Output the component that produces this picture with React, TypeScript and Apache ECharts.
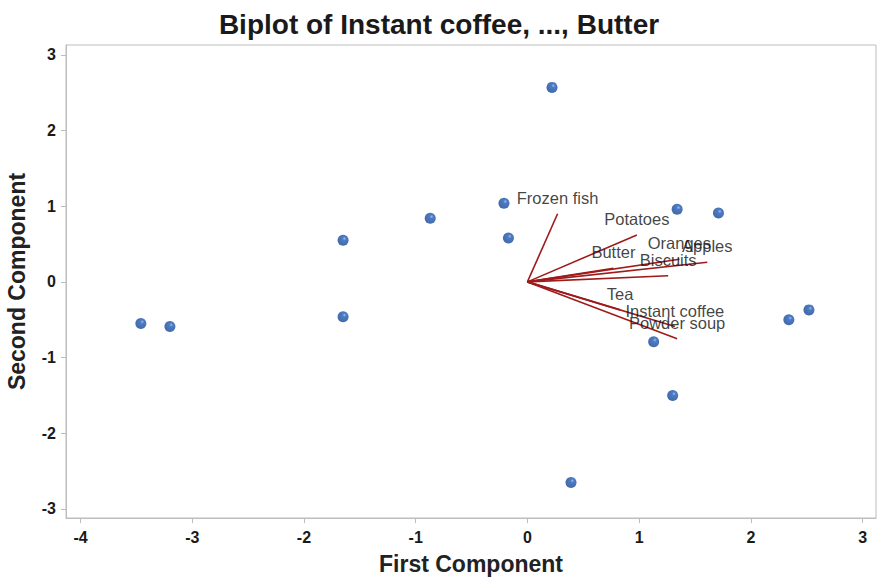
import React, { useEffect, useRef } from "react";
import * as echarts from "echarts";

const scoreX = [-3.46, -3.2, -1.65, -1.65, -0.87, -0.21, -0.17, 0.22, 0.39, 1.13, 1.3, 1.34, 1.71, 2.34, 2.52];
const scoreY = [-0.55, -0.59, 0.55, -0.46, 0.84, 1.04, 0.58, 2.57, -2.65, -0.79, -1.5, 0.96, 0.91, -0.5, -0.37];

const variables = ["Frozen fish", "Potatoes", "Oranges", "Apples", "Biscuits", "Butter", "Tea", "Instant coffee", "Powder soup"];
const loadX = [0.27, 0.98, 1.36, 1.61, 1.26, 0.77, 0.83, 1.32, 1.34];
const loadY = [0.9, 0.62, 0.3, 0.26, 0.08, 0.18, -0.37, -0.59, -0.75];

const xTicks = [-4, -3, -2, -1, 0, 1, 2, 3];
const yTicks = [-3, -2, -1, 0, 1, 2, 3];

const SANS = "'Liberation Sans', Arial, sans-serif";

export default function App() {
  const ref = useRef<HTMLDivElement>(null);
  useEffect(() => {
    if (!ref.current) return;
    const chart = echarts.init(ref.current, undefined, { renderer: "svg" });
    const axisCommon = {
      type: "value" as const,
      axisLine: { show: true, onZero: false, lineStyle: { color: "#bdbdbd", width: 1 } },
      splitLine: { show: false },
      nameLocation: "middle" as const,
      nameTextStyle: { fontFamily: SANS, fontWeight: "bold" as const, fontSize: 23, color: "#222" },
    };
    const tickLabel = {
      fontFamily: SANS,
      fontWeight: "bold" as const,
      fontSize: 16,
      color: "#1a1a1a",
    };
    chart.setOption({
      animation: false,
      backgroundColor: "#fff",
      title: {
        text: "Biplot of Instant coffee, ..., Butter",
        left: "center",
        top: 5,
        textStyle: { fontFamily: SANS, fontWeight: "bold", fontSize: 28, color: "#1a1a1a" },
      },
      grid: {
        left: 66,
        right: 2,
        top: 45,
        bottom: 60,
        containLabel: false,
        outerBoundsMode: "none",
        show: true,
        borderColor: "#bdbdbd",
        borderWidth: 1,
      },
      xAxis: {
        ...axisCommon,
        min: -4.13,
        max: 3.12,
        name: "First Component",
        nameGap: 34,
        axisTick: { show: true, customValues: xTicks, length: 5, lineStyle: { color: "#bdbdbd" } },
        axisLabel: { ...tickLabel, customValues: xTicks, margin: 11 },
      },
      yAxis: {
        ...axisCommon,
        min: -3.12,
        max: 3.13,
        name: "Second Component",
        nameGap: 38,
        axisTick: { show: true, customValues: yTicks, length: 5, lineStyle: { color: "#bdbdbd" } },
        axisLabel: { ...tickLabel, customValues: yTicks, margin: 10 },
      },
      series: [
        {
          type: "lines",
          coordinateSystem: "cartesian2d",
          polyline: false,
          silent: true,
          lineStyle: { color: "#9e1b1b", width: 1.6, opacity: 1 },
          data: variables.map((_, i) => ({ coords: [[0, 0], [loadX[i], loadY[i]]] })),
          z: 2,
        },
        {
          type: "scatter",
          symbolSize: 1,
          itemStyle: { color: "rgba(0,0,0,0)" },
          silent: true,
          label: {
            show: true,
            position: "top",
            distance: 7,
            formatter: (p: any) => variables[p.dataIndex],
            fontFamily: SANS,
            fontSize: 16.5,
            color: "#111",
          },
          labelLayout: { hideOverlap: false },
          data: variables.map((_, i) => [loadX[i], loadY[i]]),
          z: 3,
        },
        {
          type: "scatter",
          symbolSize: 11,
          itemStyle: {
            color: new echarts.graphic.RadialGradient(0.62, 0.35, 0.6, [
              { offset: 0, color: "#86aeea" },
              { offset: 0.28, color: "#1f5ab5" },
              { offset: 1, color: "#164795" },
            ]),
          },
          data: scoreX.map((x, i) => [x, scoreY[i]]),
          z: 4,
        },
      ],
    });
    return () => chart.dispose();
  }, []);
  return <div ref={ref} style={{ position: "fixed", left: 0, top: 0, width: 878, height: 578 }} />;
}
